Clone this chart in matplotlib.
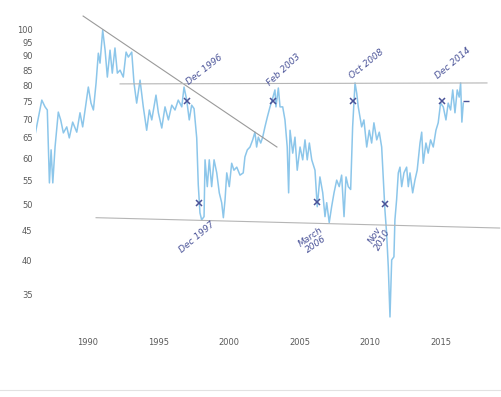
import matplotlib
matplotlib.use('Agg')
import matplotlib.pyplot as plt
from matplotlib.lines import Line2D
from matplotlib.ticker import FixedLocator, FixedFormatter, NullLocator

# Série (années décimales, valeurs)
years = [1986.24, 1986.72, 1986.95, 1987.11, 1987.26, 1987.38, 1987.50, 1987.66, 1987.89, 1988.06,
         1988.25, 1988.49, 1988.67, 1988.91, 1989.20, 1989.43, 1989.62, 1989.79, 1990.02, 1990.21,
         1990.38, 1990.57, 1990.73, 1990.85, 1991.04, 1991.21, 1991.37, 1991.56, 1991.72, 1991.91,
         1992.08, 1992.27, 1992.50, 1992.70, 1992.86, 1993.10, 1993.26, 1993.45, 1993.69, 1993.92,
         1994.16, 1994.35, 1994.52, 1994.82, 1994.99, 1995.23, 1995.46, 1995.70, 1995.94, 1996.17,
         1996.40, 1996.65, 1996.81, 1997.00, 1997.18, 1997.35, 1997.52, 1997.71, 1997.82, 1997.94,
         1998.06, 1998.23, 1998.30, 1998.46, 1998.60, 1998.77, 1998.94, 1999.13, 1999.31, 1999.48,
         1999.60, 1999.72, 1999.84, 2000.02, 2000.19, 2000.35, 2000.55, 2000.78, 2001.01, 2001.13,
         2001.30, 2001.49, 2001.68, 2001.84, 2001.96, 2002.08, 2002.25, 2002.39, 2002.55, 2002.72,
         2002.91, 2003.10, 2003.26, 2003.33, 2003.50, 2003.62, 2003.81, 2003.97, 2004.13, 2004.23,
         2004.33, 2004.52, 2004.68, 2004.84, 2005.04, 2005.23, 2005.39, 2005.55, 2005.70, 2005.87,
         2006.10, 2006.26, 2006.45, 2006.65, 2006.81, 2006.93, 2007.11, 2007.28, 2007.45, 2007.64,
         2007.82, 2007.99, 2008.16, 2008.30, 2008.46, 2008.63, 2008.77, 2008.94, 2009.06, 2009.17,
         2009.41, 2009.57, 2009.77, 2009.95, 2010.12, 2010.28, 2010.48, 2010.66, 2010.83, 2010.94,
         2011.06, 2011.18, 2011.30, 2011.42, 2011.54, 2011.70, 2011.77, 2011.89, 2012.01, 2012.13,
         2012.25, 2012.41, 2012.60, 2012.72, 2012.84, 2013.03, 2013.19, 2013.35, 2013.55, 2013.67,
         2013.78, 2013.97, 2014.13, 2014.30, 2014.49, 2014.68, 2014.84, 2015.01, 2015.20, 2015.39,
         2015.55, 2015.72, 2015.87, 2016.03, 2016.19, 2016.33, 2016.43, 2016.52, 2016.62]
values = [65.8, 75.5, 73.5, 72.6, 54.4, 62.0, 54.4, 62.7, 72.0, 69.8,
          66.3, 67.9, 65.0, 69.2, 66.5, 71.8, 67.9, 72.6, 79.5, 74.6,
          72.6, 80.8, 90.9, 87.4, 99.6, 92.0, 82.7, 92.0, 84.0, 92.8,
          84.0, 85.0, 82.7, 91.3, 89.5, 91.3, 80.8, 74.6, 81.7, 73.5,
          67.0, 72.6, 69.8, 77.0, 71.8, 67.6, 73.5, 69.8, 74.0, 72.6,
          75.5, 73.5, 79.5, 75.5, 69.8, 74.0, 73.0, 65.0, 54.0, 48.3,
          47.0, 47.6, 59.6, 53.6, 59.6, 53.6, 59.6, 56.6, 52.3, 50.3,
          47.4, 50.9, 56.6, 53.6, 58.8, 57.2, 57.9, 56.1, 56.6, 60.3,
          62.0, 62.7, 64.5, 66.5, 62.7, 65.2, 63.7, 65.2, 67.9, 70.6,
          73.5, 76.1, 78.6, 73.5, 79.2, 73.5, 73.5, 69.8, 62.7, 52.3,
          67.0, 61.2, 65.2, 57.2, 62.7, 59.6, 64.5, 59.6, 63.7, 59.6,
          57.2, 49.5, 55.7, 52.3, 47.6, 50.3, 46.5, 49.5, 52.3, 55.0,
          53.6, 56.1, 47.6, 55.7, 53.6, 53.0, 67.9, 80.8, 77.6, 73.5,
          67.9, 69.8, 62.7, 67.0, 63.7, 69.0, 64.5, 66.5, 62.7, 55.7,
          48.9, 44.6, 39.0, 32.0, 40.1, 40.6, 47.0, 50.9, 56.6, 57.9,
          53.6, 56.6, 57.9, 53.6, 56.6, 52.3, 55.0, 57.2, 63.7, 66.5,
          58.8, 63.7, 61.2, 64.5, 62.7, 67.0, 69.0, 74.6, 73.5, 69.8,
          74.6, 72.6, 78.6, 71.8, 78.6, 76.4, 80.8, 69.2, 74.6]

y_ticks = [35, 40, 45, 50, 55, 60, 65, 70, 75, 80, 85, 90, 95, 100]
x_ticks = [1990, 1995, 2000, 2005, 2010, 2015]

# Annotations manuscrites
trend_down = ([1989.65, 2003.40], [105.3, 62.7])
trend_top = ([1992.27, 2018.30], [80.5, 80.8])
trend_bottom = ([1990.57, 2019.20], [47.4, 45.5])
cross_x = [1997.02, 1997.89, 2003.10, 2006.22, 2008.82, 2011.06, 2015.13]
cross_y = [75.3, 50.2, 75.3, 50.4, 75.3, 50.1, 75.3]
notes = [("Dec 1996", 1998.23, 85.0, 38),
         ("Dec 1997", 1997.73, 43.8, 40),
         ("Feb 2003", 2003.90, 85.0, 43),
         ("Oct 2008", 2009.79, 87.1, 39),
         ("Dec 2014", 2015.89, 87.4, 40),
         ("March\n2006", 2005.96, 43.3, 35),
         ("Nov\n2010", 2010.64, 43.8, 60)]

ink = '#4a5398'
fig = plt.figure(figsize=(5.01, 3.97), dpi=100)
ax = fig.add_axes([0.0719, 0.169, 0.906, 0.793])

ax.plot(years, values, color='#8cc6ea', lw=1.1)

ax.plot(*trend_down, color='#9a9a9a', lw=0.8)
ax.plot(*trend_top, color='#b5b5b5', lw=0.8)
ax.plot(*trend_bottom, color='#b5b5b5', lw=0.8, clip_on=False)

ax.plot(cross_x, cross_y, 'x', color=ink, ms=5, mew=1.1)
ax.plot([2016.81], [75.1], '_', color=ink, ms=4, mew=1)

for txt, xx, yy, rot in notes:
    ax.text(xx, yy, txt, rotation=rot, ha='center', va='center', fontsize=6.5,
            color=ink, fontstyle='italic', linespacing=1.0, rotation_mode='anchor')

ax.set_yscale('log')
ax.set_ylim(30.4, 105.7)
ax.set_xlim(1986.31, 2018.51)
ax.yaxis.set_major_locator(FixedLocator(y_ticks))
ax.yaxis.set_major_formatter(FixedFormatter([str(v) for v in y_ticks]))
ax.yaxis.set_minor_locator(NullLocator())
ax.set_xticks(x_ticks)
ax.tick_params(length=0, labelsize=6, labelcolor='#5a5a5a')
ax.tick_params(axis='y', pad=2.5)
ax.tick_params(axis='x', pad=6)
for s in ax.spines.values():
    s.set_visible(False)

# bord de la feuille scannée
fig.add_artist(Line2D([0, 1], [0.018, 0.018], color='#e2e2e2', lw=0.8))

plt.savefig('out.png', dpi=100)
